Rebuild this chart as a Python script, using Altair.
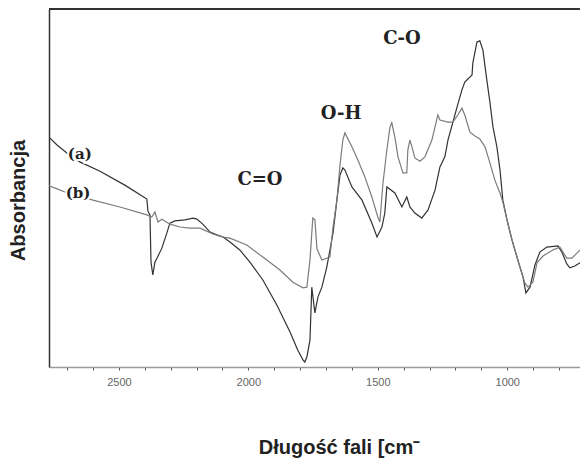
import altair as alt
import pandas as pd

# Spectrum (a) - darker trace
wn_a = [2770, 2739, 2701, 2651, 2573, 2477, 2392, 2388, 2380, 2376, 2369, 2361, 2353, 2334, 2315, 2303,
        2284, 2245, 2214, 2199, 2176, 2148, 2121, 2098, 2071, 2033, 1994, 1944, 1890, 1839, 1809, 1789,
        1782, 1774, 1762, 1755, 1743, 1731, 1716, 1697, 1673, 1658, 1646, 1635, 1627, 1600, 1561, 1523,
        1503, 1484, 1473, 1465, 1434, 1407, 1388, 1376, 1357, 1330, 1306, 1279, 1260, 1241, 1229, 1194,
        1175, 1164, 1136, 1133, 1117, 1106, 1094, 1079, 1067, 1055, 1040, 1028, 1017, 1001, 982, 959,
        939, 928, 912, 893, 874, 847, 804, 789, 770, 758, 739, 719]
ab_a = [0.642, 0.620, 0.598, 0.573, 0.547, 0.508, 0.469, 0.436, 0.425, 0.293, 0.257, 0.293, 0.304, 0.332, 0.374, 0.402,
        0.408, 0.411, 0.416, 0.413, 0.399, 0.377, 0.369, 0.363, 0.349, 0.327, 0.293, 0.243, 0.173, 0.098, 0.047, 0.020,
        0.014, 0.028, 0.075, 0.223, 0.151, 0.196, 0.223, 0.279, 0.374, 0.466, 0.536, 0.556, 0.550, 0.503, 0.466, 0.402,
        0.363, 0.391, 0.430, 0.503, 0.486, 0.447, 0.475, 0.447, 0.430, 0.416, 0.439, 0.494, 0.559, 0.587, 0.634, 0.726,
        0.774, 0.796, 0.816, 0.849, 0.908, 0.911, 0.885, 0.802, 0.740, 0.670, 0.615, 0.550, 0.466, 0.411, 0.355, 0.299,
        0.251, 0.207, 0.223, 0.285, 0.321, 0.335, 0.338, 0.321, 0.288, 0.277, 0.282, 0.291]

# Spectrum (b) - lighter trace
wn_b = [2770, 2736, 2709, 2600, 2496, 2392, 2373, 2361, 2349, 2334, 2303, 2264, 2226, 2187, 2137, 2098,
        2071, 2006, 1944, 1878, 1828, 1789, 1774, 1762, 1751, 1743, 1735, 1716, 1685, 1673, 1658, 1646,
        1635, 1627, 1600, 1577, 1550, 1523, 1500, 1492, 1480, 1465, 1453, 1446, 1434, 1422, 1403, 1388,
        1384, 1376, 1368, 1357, 1337, 1318, 1291, 1268, 1260, 1229, 1210, 1191, 1175, 1164, 1144, 1125,
        1106, 1086, 1067, 1048, 1028, 1017, 1001, 978, 951, 932, 920, 901, 885, 862, 824, 797,
        770, 750, 719]
ab_b = [0.506, 0.497, 0.489, 0.466, 0.447, 0.425, 0.419, 0.433, 0.405, 0.413, 0.399, 0.391, 0.388, 0.388, 0.372, 0.363,
        0.360, 0.341, 0.307, 0.271, 0.237, 0.221, 0.223, 0.299, 0.416, 0.411, 0.330, 0.299, 0.307, 0.391, 0.466, 0.564,
        0.634, 0.654, 0.615, 0.578, 0.531, 0.475, 0.419, 0.405, 0.514, 0.606, 0.670, 0.682, 0.642, 0.587, 0.542, 0.542,
        0.606, 0.634, 0.615, 0.584, 0.575, 0.587, 0.634, 0.704, 0.690, 0.684, 0.684, 0.704, 0.723, 0.704, 0.656, 0.645,
        0.637, 0.615, 0.570, 0.522, 0.486, 0.461, 0.411, 0.346, 0.279, 0.235, 0.223, 0.237, 0.291, 0.310, 0.327, 0.335,
        0.304, 0.304, 0.327]

# Annotations
series_labels = ["(a)", "(b)"]
series_label_wn = [2651, 2658]
series_label_ab = [0.595, 0.486]

band_labels = ["C=O", "O-H", "C-O"]
band_label_wn = [1955, 1642, 1407]
band_label_ab = [0.522, 0.707, 0.916]

tick_values = list(range(800, 2800, 100))

rows = []
for i, (w, v) in enumerate(zip(wn_a, ab_a)):
    rows.append({"wn": w, "ab": v, "series": "a", "i": i})
for i, (w, v) in enumerate(zip(wn_b, ab_b)):
    rows.append({"wn": w, "ab": v, "series": "b", "i": i})
spec = pd.DataFrame(rows)

sl = pd.DataFrame({"t": series_labels, "wn": series_label_wn, "ab": series_label_ab})
bl = pd.DataFrame({"t": band_labels, "wn": band_label_wn, "ab": band_label_ab})

W, H = 531, 358

x_scale = alt.Scale(domain=[719, 2770], reverse=True, nice=False, zero=False)
y_scale = alt.Scale(domain=[0, 1], nice=False, zero=False)

x_axis = alt.Axis(
    title="Długość fali [cm⁻",
    values=tick_values,
    tickCount=60,
    labelExpr="datum.value % 500 === 0 ? format(datum.value, 'd') : ''",
    grid=False,
    domainColor="#9a9a9a", domainWidth=1.5,
    tickColor="#555555", tickSize=3, tickWidth=1,
    labelColor="#666666", labelFont="Liberation Sans", labelFontSize=11, labelPadding=6,
    labelFlush=False, labelOverlap=False,
    titleFont="Liberation Sans", titleFontSize=20, titleFontWeight="bold", titleColor="#222222",
    titleX=290, titleY=86, titleAlign="center", titleBaseline="alphabetic",
)
y_axis = alt.Axis(
    title="Absorbancja",
    labels=False, ticks=False, grid=False,
    domainColor="#333333", domainWidth=1.5,
    titleFont="Liberation Sans", titleFontSize=20, titleFontWeight="bold", titleColor="#222222",
    titleX=-25, titleY=191, titleAngle=270, titleAlign="center", titleBaseline="alphabetic",
)

lines = alt.Chart(spec).mark_line(strokeWidth=1.2, clip=True).encode(
    x=alt.X("wn:Q", scale=x_scale, axis=x_axis),
    y=alt.Y("ab:Q", scale=y_scale, axis=y_axis),
    color=alt.Color("series:N", scale=alt.Scale(domain=["a", "b"], range=["#333333", "#7c7c7c"]), legend=None),
    order="i:Q",
    detail="series:N",
)

top_rule = alt.Chart(spec).mark_rule(color="#333333", strokeWidth=1.5).encode(
    x=alt.value(0), x2=alt.value(W), y=alt.value(0)
)

halo = alt.Chart(sl).mark_text(
    font="DejaVu Serif", fontWeight="bold", fontSize=15, color="white",
    stroke="white", strokeWidth=4, align="center", baseline="middle"
).encode(x=alt.X("wn:Q", scale=x_scale), y=alt.Y("ab:Q", scale=y_scale), text="t:N")

slabels = alt.Chart(sl).mark_text(
    font="DejaVu Serif", fontWeight="bold", fontSize=15, color="#222222",
    align="center", baseline="middle"
).encode(x=alt.X("wn:Q", scale=x_scale), y=alt.Y("ab:Q", scale=y_scale), text="t:N")

blabels = alt.Chart(bl).mark_text(
    font="DejaVu Serif", fontWeight="bold", fontSize=18, color="#222222",
    align="center", baseline="middle"
).encode(x=alt.X("wn:Q", scale=x_scale), y=alt.Y("ab:Q", scale=y_scale), text="t:N")

chart = alt.layer(lines, top_rule, halo, slabels, blabels).properties(
    width=W, height=H,
    padding={"left": 49, "top": 9, "right": 0, "bottom": 92},
    autosize=alt.AutoSizeParams(type="none"),
    background="white",
).configure_view(stroke=None)

chart.save("out.html", embed_options={"renderer": "svg", "actions": False})
